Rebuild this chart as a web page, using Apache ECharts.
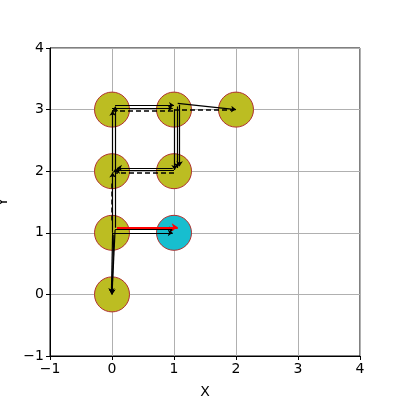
<!DOCTYPE html>
<html><head><meta charset="utf-8">
<script src="https://cdn.jsdelivr.net/npm/echarts@6/dist/echarts.min.js"></script>
<style>html,body{margin:0;padding:0;background:#fff}#c{width:400px;height:400px}</style>
</head><body><div id="c"></div>
<script>
// Node positions
const nodeX = [0, 0, 1, 0, 1, 0, 1, 2];
const nodeY = [0, 1, 1, 2, 2, 3, 3, 3];
const nodeIsCurrent = [false, false, true, false, false, false, false, false];
// Axis ticks
const axisTicks = [-1, 0, 1, 2, 3, 4];
// Arrow segments [x1, y1, x2, y2]
const solidSegments = [
  [0.05, 1.05, 0.0, 0.0],
  [0.01, 1.0, -0.01, 0.02],
  [0.03, 0.97, 0.0, 0.0],
  [0.0, 1.0, 0.98, 1.0],
  [0.05, 1.05, 1.0, 1.05],
  [0.01, 1.0, 0.01, 1.98],
  [0.06, 1.08, 0.06, 2.05],
  [0.01, 2.0, 0.01, 2.98],
  [0.05, 2.05, 0.05, 3.05],
  [0.0, 3.02, 0.98, 3.02],
  [0.05, 3.07, 1.0, 3.07],
  [1.01, 3.0, 1.01, 2.02],
  [1.05, 3.05, 1.05, 2.05],
  [1.09, 3.08, 1.09, 2.08],
  [0.98, 2.05, 0.08, 2.05],
  [1.0, 2.01, 0.05, 2.01],
  [1.06, 3.1, 2.0, 3.0]
];
const dashedSegments = [
  [-0.01, 1.2, -0.01, 1.8],
  [0.0, 2.98, 1.0, 2.98],
  [1.0, 1.98, 0.05, 1.98],
  [1.0, 2.99, 1.95, 2.99]
];
const redSegments = [
  [0.08, 1.09, 1.06, 1.09]
];

const toLines = segs => segs.map(s => ({coords: [[s[0], s[1]], [s[2], s[3]]]}));

const axisCommon = (name, gap, rot) => ({
  type: 'value', min: axisTicks[0], max: axisTicks[axisTicks.length - 1], interval: 1,
  name: name, nameLocation: 'middle', nameGap: gap, nameRotate: rot,
  nameTextStyle: {color: '#000', fontSize: 14, fontFamily: 'DejaVu Sans'},
  axisLine: {show: true, onZero: false, lineStyle: {color: '#000', width: 1}},
  axisTick: {show: true, inside: false, length: 4, lineStyle: {color: '#000'}},
  axisLabel: {color: '#000', fontSize: 14, fontFamily: 'DejaVu Sans', margin: 6,
    formatter: v => v < 0 ? '\u2212' + Math.abs(v) : String(v)},
  splitLine: {show: true, lineStyle: {color: '#b0b0b0', width: 1}}
});

const chart = echarts.init(document.getElementById('c'), null, {renderer: 'canvas'});
chart.setOption({
  animation: false,
  backgroundColor: '#fff',
  grid: {left: 50, right: 40, top: 48, bottom: 44, containLabel: false, outerBoundsMode: 'none',
    show: true, borderColor: '#000', borderWidth: 1, backgroundColor: 'transparent'},
  xAxis: axisCommon('X', 29, 0),
  yAxis: axisCommon('Y', 40, 90),
  series: [
    {
      type: 'scatter', z: 1,
      symbolSize: 35,
      data: nodeX.map((x, i) => ({
        value: [x, nodeY[i]],
        itemStyle: {color: nodeIsCurrent[i] ? '#17becf' : '#bcbd22', borderColor: '#b03030', borderWidth: 1, opacity: 1}
      }))
    },
    {
      type: 'lines', coordinateSystem: 'cartesian2d', z: 3,
      symbol: ['none', 'arrow'], symbolSize: 5,
      lineStyle: {color: '#000', width: 1.2, type: 'solid', opacity: 1},
      data: toLines(solidSegments)
    },
    {
      type: 'lines', coordinateSystem: 'cartesian2d', z: 4,
      symbol: ['none', 'none'],
      lineStyle: {color: '#000', width: 1.5, type: [5, 3], opacity: 1},
      data: toLines(dashedSegments)
    },
    {
      type: 'lines', coordinateSystem: 'cartesian2d', z: 5,
      symbol: ['none', 'arrow'], symbolSize: 6,
      lineStyle: {color: '#ff0000', width: 2, type: 'solid', opacity: 1},
      data: toLines(redSegments)
    }
  ]
});
</script>
</body></html>
